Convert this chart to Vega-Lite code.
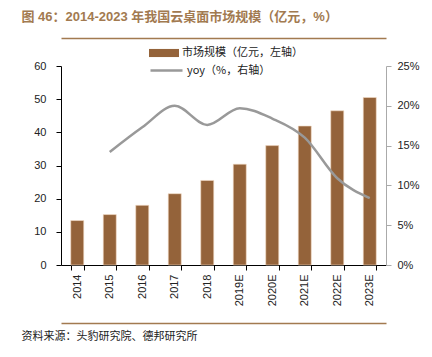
{
  "$schema": "https://vega.github.io/schema/vega-lite/v6.json",
  "autosize": "none",
  "width": 325,
  "height": 199,
  "padding": {"left": 61, "top": 66, "right": 46, "bottom": 92},
  "background": "white",
  "config": {
    "view": {"stroke": null},
    "font": "Liberation Sans, Noto Sans CJK SC",
    "axis": {"labelFont": "Liberation Sans", "labelFontSize": 11, "labelColor": "#222", "grid": false}
  },
  "data": {
    "values": [
      {"year": "2014", "size": 13.4, "yoy": null},
      {"year": "2015", "size": 15.2, "yoy": 14.2},
      {"year": "2016", "size": 18.0, "yoy": 17.3},
      {"year": "2017", "size": 21.5, "yoy": 20.0},
      {"year": "2018", "size": 25.5, "yoy": 17.6},
      {"year": "2019E", "size": 30.4, "yoy": 19.7},
      {"year": "2020E", "size": 36.0, "yoy": 18.4},
      {"year": "2021E", "size": 41.9, "yoy": 16.0},
      {"year": "2022E", "size": 46.5, "yoy": 10.9},
      {"year": "2023E", "size": 50.5, "yoy": 8.4}
    ]
  },
  "layer": [
    {
      "mark": {"type": "bar", "stroke": "#f3dcc6", "strokeWidth": 0.6},
      "encoding": {
        "x": {
          "field": "year", "type": "ordinal", "sort": null,
          "scale": {"paddingInner": 0.6, "paddingOuter": 0.3},
          "axis": {
            "orient": "bottom", "title": null, "labelAngle": -90, "labelAlign": "right", "labelBaseline": "middle",
            "labelPadding": 4, "tickSize": 5, "tickBand": "extent", "domainColor": "#000", "tickColor": "#000", "labelFontSize": 11
          }
        },
        "y": {
          "field": "size", "type": "quantitative",
          "scale": {"domain": [0, 60]},
          "axis": {"values": [0, 10, 20, 30, 40, 50, 60], "title": null, "tickSize": 5, "labelPadding": 10, "domainColor": "#000", "tickColor": "#000", "labelFontSize": 11}
        },
        "fill": {
          "datum": "市场规模（亿元，左轴）",
          "scale": {"range": ["#94633A"]},
          "legend": {
            "orient": "none", "legendX": 88, "legendY": -28, "title": null, "padding": 0,
            "symbolType": "M-1,-0.27H1V0.27H-1Z", "symbolSize": 900, "symbolStrokeWidth": 0,
            "labelFont": "Noto Sans CJK SC", "labelFontSize": 11, "labelColor": "#222", "labelOffset": 3
          }
        }
      }
    },
    {
      "mark": {"type": "line", "interpolate": "monotone", "strokeWidth": 2.5},
      "encoding": {
        "x": {
          "field": "year", "type": "ordinal", "sort": null,
          "axis": {
            "orient": "top", "offset": 28, "labels": false, "ticks": false, "domainColor": "#a27a50", "domainWidth": 1.5,
            "title": "图 46：2014-2023 年我国云桌面市场规模（亿元，%）", "titleAnchor": "start", "titleAlign": "left",
            "titleX": -40, "titleY": -22, "titleBaseline": "middle", "titleFontSize": 13, "titleFontWeight": "bold",
            "titleColor": "#a27a50", "titleFont": "Liberation Sans, Noto Sans CJK SC"
          }
        },
        "y": {
          "field": "yoy", "type": "quantitative",
          "scale": {"domain": [0, 25]},
          "axis": {
            "orient": "right", "values": [0, 5, 10, 15, 20, 25], "labelExpr": "datum.value + '%'", "title": null,
            "tickSize": 5, "labelPadding": 6, "domainColor": "#aaa", "tickColor": "#aaa", "labelFontSize": 11
          }
        },
        "stroke": {
          "datum": "yoy（%，右轴）",
          "scale": {"range": ["#999999"]},
          "legend": {
            "orient": "none", "legendX": 88, "legendY": -13, "title": null, "padding": 0,
            "symbolType": "stroke", "symbolSize": 1024, "symbolStrokeWidth": 2.5,
            "labelFont": "Noto Sans CJK SC", "labelFontSize": 11, "labelColor": "#222", "labelOffset": 3
          }
        }
      }
    },
    {
      "mark": {"type": "bar", "opacity": 0},
      "encoding": {
        "x": {
          "field": "year", "type": "ordinal", "sort": null,
          "axis": {
            "orient": "bottom", "offset": 58, "labels": false, "ticks": false, "domainColor": "#a27a50", "domainWidth": 1.5,
            "title": "资料来源：头豹研究院、德邦研究所", "titleAnchor": "start", "titleAlign": "left",
            "titleX": -40, "titleY": 13, "titleBaseline": "middle", "titleFontSize": 11, "titleFontWeight": "normal",
            "titleColor": "#222", "titleFont": "Noto Sans CJK SC"
          }
        },
        "y": {"field": "size", "type": "quantitative", "scale": {"domain": [0, 60]}, "axis": null}
      }
    }
  ],
  "resolve": {"scale": {"y": "independent"}, "axis": {"x": "independent"}}
}
